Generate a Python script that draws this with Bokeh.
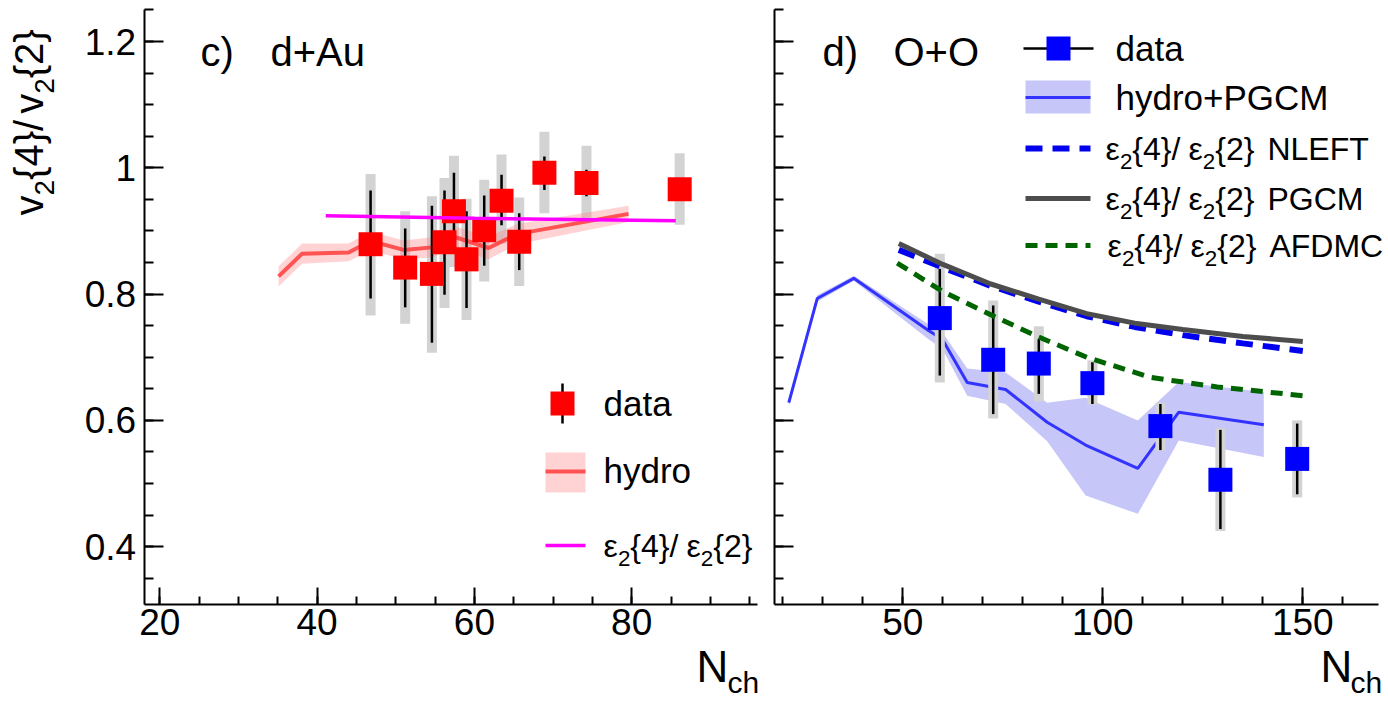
from bokeh.plotting import figure
from bokeh.layouts import row
from bokeh.models import Range1d, FixedTicker, Label, CustomJSTickFormatter
from bokeh.embed import file_html
from bokeh.resources import INLINE

FONT = "Liberation Sans"

# ---------------- panel c) d+Au ----------------
dau_x = [46.8, 51.2, 54.6, 56.2, 57.4, 59.0, 61.25, 63.45, 65.7, 68.9, 74.25, 86.1]
dau_y = [0.879, 0.842, 0.832, 0.882, 0.931, 0.855, 0.901, 0.948, 0.883, 0.992, 0.976, 0.966]
dau_stat_lo = [0.793, 0.779, 0.723, 0.799, 0.870, 0.778, 0.845, 0.909, 0.838, 0.965, 0.955, 0.955]
dau_stat_hi = [0.964, 0.904, 0.940, 0.964, 0.992, 0.931, 0.956, 0.989, 0.928, 1.018, 0.997, 0.977]
dau_sys_lo = [0.766, 0.753, 0.707, 0.778, 0.843, 0.759, 0.820, 0.880, 0.813, 0.928, 0.919, 0.910]
dau_sys_hi = [0.990, 0.931, 0.955, 0.984, 1.019, 0.951, 0.981, 1.021, 0.953, 1.057, 1.035, 1.023]

dau_hydro_x = [35.1, 38.1, 44.0, 46.8, 51.0, 54.6, 57.6, 61.8, 65.4, 79.6]
dau_hydro_y = [0.828, 0.864, 0.866, 0.884, 0.870, 0.874, 0.890, 0.873, 0.895, 0.927]
dau_hydro_err = [0.016, 0.016, 0.014, 0.015, 0.015, 0.016, 0.017, 0.018, 0.016, 0.013]

dau_ecc_x = [41.1, 60.0, 85.6]
dau_ecc_y = [0.924, 0.920, 0.916]

# ---------------- panel d) O+O ----------------
oo_x = [59.25, 72.6, 84.0, 97.4, 114.4, 129.4, 148.6]
oo_y = [0.762, 0.696, 0.690, 0.659, 0.591, 0.506, 0.539]
oo_stat_lo = [0.671, 0.610, 0.642, 0.626, 0.553, 0.428, 0.483]
oo_stat_hi = [0.840, 0.782, 0.729, 0.692, 0.626, 0.585, 0.595]
oo_sys_lo = [0.660, 0.603, 0.630, 0.625, 0.552, 0.425, 0.478]
oo_sys_hi = [0.864, 0.790, 0.749, 0.695, 0.628, 0.588, 0.600]

oo_hydro_x = [21.5, 28.6, 37.75, 56.5, 59.85, 66.1, 75.7, 86.1, 95.7, 108.75, 119.0, 140.25]
oo_hydro_y = [0.628, 0.793, 0.825, 0.742, 0.729, 0.660, 0.649, 0.597, 0.561, 0.524, 0.613, 0.593]
oo_hydro_lo = [0.622, 0.788, 0.821, 0.728, 0.714, 0.639, 0.626, 0.567, 0.481, 0.452, 0.568, 0.542]
oo_hydro_hi = [0.634, 0.798, 0.829, 0.752, 0.740, 0.682, 0.676, 0.628, 0.636, 0.600, 0.661, 0.645]

nleft_x = [49, 60, 72, 84, 96, 108, 120, 135, 150]
nleft_y = [0.870, 0.842, 0.813, 0.788, 0.765, 0.748, 0.735, 0.722, 0.710]
pgcm_x = [49, 60, 72, 84, 96, 108, 120, 135, 150]
pgcm_y = [0.880, 0.847, 0.816, 0.792, 0.769, 0.754, 0.744, 0.733, 0.725]
afdmc_x = [48.6, 60.3, 72.4, 84.0, 96.0, 112.0, 128.6, 150.25]
afdmc_y = [0.849, 0.803, 0.766, 0.732, 0.700, 0.668, 0.653, 0.639]

# ---------------- axes / ticks ----------------
y_bounds = (0.3085, 1.2507)
y_major = [0.4, 0.6, 0.8, 1.0, 1.2]
y_labels = ["0.4", "0.6", "0.8", "1", "1.2"]
y_minor = [round(0.35 + 0.05 * i, 2) for i in range(19)]

c_bounds = (18, 96)
c_major = [20, 40, 60, 80]
c_labels = ["20", "40", "60", "80"]
c_minor = list(range(20, 96, 5))

d_bounds = (18, 169)
d_major = [50, 100, 150]
d_labels = ["50", "100", "150"]
d_minor = list(range(20, 170, 10))

# ---------------- page geometry (pixels) ----------------
H = 700
W1, W2 = 760, 626
Y_PX, Y_REF, Y_REFPX = 631.5, 1.2, 41.0          # px per unit, reference value and its pixel row
C_PX, C_REF, C_REFPX = 7.865, 20.0, 159.3
D_PX, D_REF, D_REFPX = 4.0, 50.0, 142.3

RED = "#ff0000"
BLUE = "#0000ff"
SYS = "#d3d3d3"

EM = {'v': 0.5, '2': 0.556, '4': 0.556, '{': 0.334, '}': 0.334, '/': 0.278, 'ε': 0.45, ' ': 0.278,
      'N': 0.722, 'L': 0.556, 'E': 0.667, 'F': 0.611, 'T': 0.611, 'P': 0.667, 'G': 0.778,
      'C': 0.722, 'M': 0.833, 'A': 0.667, 'D': 0.722}


def lab(p, cx, cy, txt, fs, angle=0.0):
    p.add_layout(Label(x=cx, y=H - cy, x_units="screen", y_units="screen", text=txt,
                       text_font=FONT, text_font_size=f"{fs:.1f}px", angle=angle,
                       text_align="left", text_baseline="middle", text_color="black"))


def rich(p, cx, cy, parts, fs, angle=0.0, sub_scale=0.7, sub_drop=0.40):
    """parts: (text, kind, gap_before_px); kind 'm' main / 's' subscript."""
    pos = 0.0
    for txt, kind, gap in parts:
        pos += gap
        size = fs * sub_scale if kind == "s" else fs
        drop = sub_drop * fs if kind == "s" else 0.0
        if angle == 0:
            lab(p, cx + pos, cy + drop, txt, size)
        else:
            lab(p, cx + drop, cy - pos, txt, size, angle)
        pos += sum(EM.get(c, 0.556) for c in txt) * size


def make_fig(width, ref, refpx, pxu, bounds, major, labels, minor, show_ylabels):
    xr = (ref - refpx / pxu, ref + (width - refpx) / pxu)
    yr = (Y_REF - (H - Y_REFPX) / Y_PX, Y_REF + Y_REFPX / Y_PX)
    p = figure(width=width, height=H, x_range=Range1d(*xr), y_range=Range1d(*yr),
               output_backend="svg", toolbar_location=None,
               min_border_left=0, min_border_right=0, min_border_top=0, min_border_bottom=0)
    p.outline_line_color = None
    p.grid.visible = False
    p.xaxis.fixed_location = y_bounds[0]
    p.yaxis.fixed_location = bounds[0]
    p.xaxis.bounds = bounds
    p.yaxis.bounds = y_bounds
    p.xaxis.ticker = FixedTicker(ticks=major, minor_ticks=minor)
    p.xaxis.major_label_overrides = {t: l for t, l in zip(major, labels)}
    p.yaxis.ticker = FixedTicker(ticks=y_major, minor_ticks=y_minor)
    if show_ylabels:
        p.yaxis.major_label_overrides = {t: l for t, l in zip(y_major, y_labels)}
        p.yaxis.major_label_standoff = 8
    else:
        p.yaxis.formatter = CustomJSTickFormatter(code="return ''")
    for ax in (p.xaxis[0], p.yaxis[0]):
        ax.axis_line_width = 2
        ax.axis_line_color = "black"
        ax.major_tick_line_width = 2
        ax.minor_tick_line_width = 2
        ax.major_tick_line_color = "black"
        ax.minor_tick_line_color = "black"
        ax.major_tick_out = 0
        ax.minor_tick_out = 0
        ax.major_label_text_font = FONT
        ax.major_label_text_font_size = "37px"
        ax.major_label_text_color = "black"
    p.xaxis.major_tick_in = 17
    p.xaxis.minor_tick_in = 8
    p.xaxis.major_label_standoff = 5
    p.yaxis.major_tick_in = 19
    p.yaxis.minor_tick_in = 9
    p.extra_x_ranges = {"px": Range1d(0, width)}
    p.extra_y_ranges = {"py": Range1d(H, 0)}
    return p


def sys_boxes(p, x, lo, hi):
    p.rect(x=x, y=[(a + b) / 2 for a, b in zip(lo, hi)], width=10, width_units="screen",
           height=[b - a for a, b in zip(lo, hi)], fill_color=SYS, line_color=None)


def stat_and_marker(p, x, y, slo, shi, color):
    p.segment(x0=x, y0=slo, x1=x, y1=shi, line_color="black", line_width=2.5)
    p.scatter(x=x, y=y, marker="square", size=24, fill_color=color, line_color=None)


EPS = [("ε", "m", 0), ("2", "s", 0), ("{4}", "m", 0), ("/", "m", 0),
       ("ε", "m", 8), ("2", "s", 0), ("{2}", "m", 0)]
PX = dict(x_range_name="px", y_range_name="py")

# ================= left panel =================
p1 = make_fig(W1, C_REF, C_REFPX, C_PX, c_bounds, c_major, c_labels, c_minor, True)
sys_boxes(p1, dau_x, dau_sys_lo, dau_sys_hi)
p1.varea(x=dau_hydro_x, y1=[a - e for a, e in zip(dau_hydro_y, dau_hydro_err)],
         y2=[a + e for a, e in zip(dau_hydro_y, dau_hydro_err)], fill_color="#ff8080", fill_alpha=0.35)
p1.line(dau_hydro_x, dau_hydro_y, line_color="#ff3b3b", line_alpha=0.85, line_width=4)
stat_and_marker(p1, dau_x, dau_y, dau_stat_lo, dau_stat_hi, RED)
p1.line(dau_ecc_x, dau_ecc_y, line_color="#ff00ff", line_width=3.5)

# legend c) (canvas pixel space)
p1.quad(left=[545], right=[585], bottom=[492], top=[452], fill_color="#ff8080", fill_alpha=0.35,
        line_color=None, **PX)
p1.line([545, 585], [471, 471], line_color="#ff3b3b", line_alpha=0.85, line_width=4, **PX)
p1.line([545, 585], [545, 545], line_color="#ff00ff", line_width=3.5, **PX)
p1.segment(x0=[562], y0=[383], x1=[562], y1=[423], line_color="black", line_width=2.5, **PX)
p1.scatter(x=[562], y=[403], marker="square", size=24, fill_color=RED, line_color=None, **PX)
lab(p1, 603, 403, "data", 35)
lab(p1, 603, 470, "hydro", 35)
rich(p1, 603, 545, EPS, 32)

lab(p1, 200, 51, "c)", 40)
lab(p1, 270, 51, "d+Au", 40)
lab(p1, 696, 666, "N", 44)
lab(p1, 727, 682, "ch", 30)

rich(p1, 28, 215, [("v", "m", 0), ("2", "s", 0), ("{4}", "m", 0), ("/", "m", 0), ("v", "m", 6),
                   ("2", "s", 0), ("{2}", "m", 0)], 40, angle=1.5707963)

# ================= right panel =================
OFF = W1
p2 = make_fig(W2, D_REF, D_REFPX, D_PX, d_bounds, d_major, d_labels, d_minor, False)
p2.varea(x=oo_hydro_x, y1=oo_hydro_lo, y2=oo_hydro_hi, fill_color="#c6c6f8")
p2.line(oo_hydro_x, oo_hydro_y, line_color="#3333ff", line_width=3)
sys_boxes(p2, oo_x, oo_sys_lo, oo_sys_hi)
stat_and_marker(p2, oo_x, oo_y, oo_stat_lo, oo_stat_hi, BLUE)
p2.line(nleft_x, nleft_y, line_color="#0000ee", line_width=6, line_dash="17 10")
p2.line(pgcm_x, pgcm_y, line_color="#4d4d4d", line_width=5)
p2.line(afdmc_x, afdmc_y, line_color="#006400", line_width=5, line_dash="12 8")

# legend d)
p2.segment(x0=[1023 - OFF], y0=[48], x1=[1093 - OFF], y1=[48], line_color="black", line_width=2.5, **PX)
p2.scatter(x=[1058 - OFF], y=[48], marker="square", size=24, fill_color=BLUE, line_color=None, **PX)
p2.quad(left=[1025 - OFF], right=[1090 - OFF], bottom=[113], top=[80], fill_color="#c6c6f8",
        line_color=None, **PX)
p2.line([1025 - OFF, 1090 - OFF], [97, 97], line_color="#3333ff", line_width=3, **PX)
p2.line([1025 - OFF, 1090 - OFF], [148, 148], line_color="#0000ee", line_width=6, line_dash="17 10", **PX)
p2.line([1025 - OFF, 1090 - OFF], [198, 198], line_color="#4d4d4d", line_width=5, **PX)
p2.line([1025 - OFF, 1090 - OFF], [245, 245], line_color="#006400", line_width=5, line_dash="12 8", **PX)
lab(p2, 1115 - OFF, 48, "data", 35)
lab(p2, 1115 - OFF, 97, "hydro+PGCM", 35)
rich(p2, 1105 - OFF, 148, EPS + [("NLEFT", "m", 13)], 32)
rich(p2, 1105 - OFF, 198, EPS + [("PGCM", "m", 13)], 32)
rich(p2, 1107 - OFF, 245, EPS + [("AFDMC", "m", 13)], 32)

lab(p2, 822 - OFF, 51, "d)", 40)
lab(p2, 893 - OFF, 51, "O+O", 40)
lab(p2, 1320 - OFF, 666, "N", 44)
lab(p2, 1350 - OFF, 682, "ch", 30)

layout = row(p1, p2)
open("out.html", "w").write(file_html(layout, INLINE))
